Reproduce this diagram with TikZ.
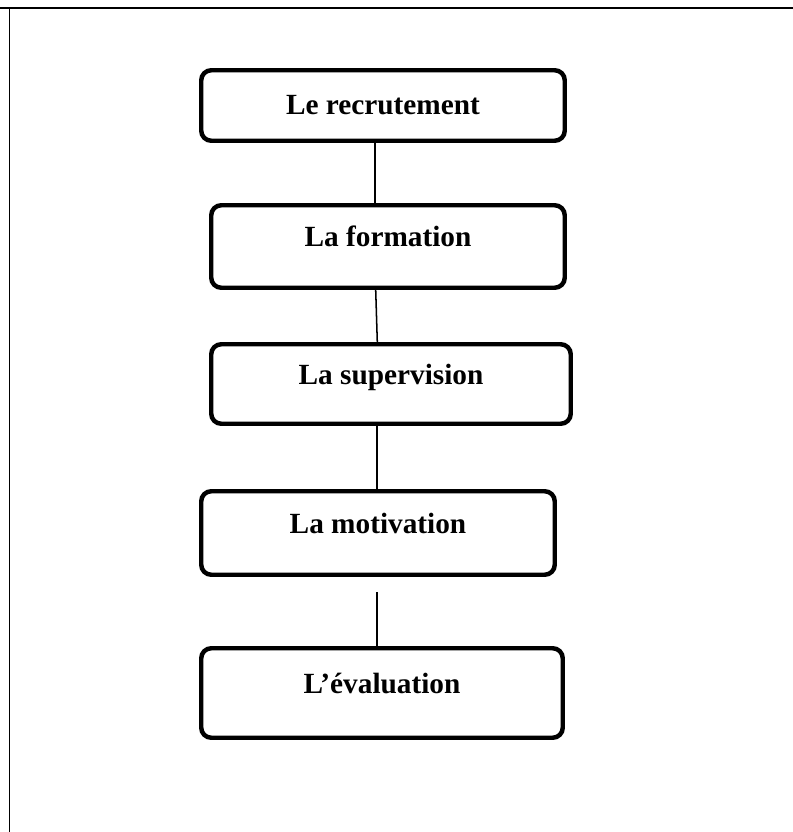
\documentclass[tikz,border=0pt]{standalone}
\usepackage{fontspec}
\setmainfont{Liberation Serif}
\usetikzlibrary{positioning}

\begin{document}
\begin{tikzpicture}[x=0.03cm,y=-0.03cm,
        etape/.style={draw,line width=3.8pt,rounded corners=0.3cm,inner sep=0pt,
          font=\fontsize{25}{30}\selectfont\bfseries},
        lien/.style={line width=1.3pt}]
        \useasboundingbox (0,0) rectangle (793,832);
        \draw[line width=1.7pt] (0,8) -- (793,8);
        \draw[line width=1.4pt] (9.5,8) -- (9.5,832);
        \node[etape,minimum width=10.905cm,text height=1.3125cm,text depth=0.8025cm] (e_1) at (383,105.5) {Le recrutement};
        \node[etape,minimum width=10.605cm,text height=1.2375cm,text depth=1.2375cm] (e_2) at (388,246.5) {La formation};
        \node[etape,minimum width=10.785cm,text height=1.1925cm,text depth=1.1925cm] (e_3) at (391,384) {La supervision};
        \node[etape,minimum width=10.605cm,text height=1.2525cm,text depth=1.2525cm] (e_4) at (378,533) {La motivation};
        \node[etape,minimum width=10.845cm,text height=1.3425cm,text depth=1.3425cm] (e_5) at (382,693) {L’évaluation};
        \coordinate (c_4) at (377,592);
        \draw[lien] (e_1.south -| 375,0) -- (e_2.north -| 375,0);
        \draw[lien] (e_2.south -| 375.7,0) -- (e_3.north -| 377.3,0);
        \draw[lien] (e_3.south -| 377,0) -- (e_4.north -| 377,0);
        \draw[lien] (c_4) -- (e_5.north -| 377,0);
      \end{tikzpicture}
\end{document}
